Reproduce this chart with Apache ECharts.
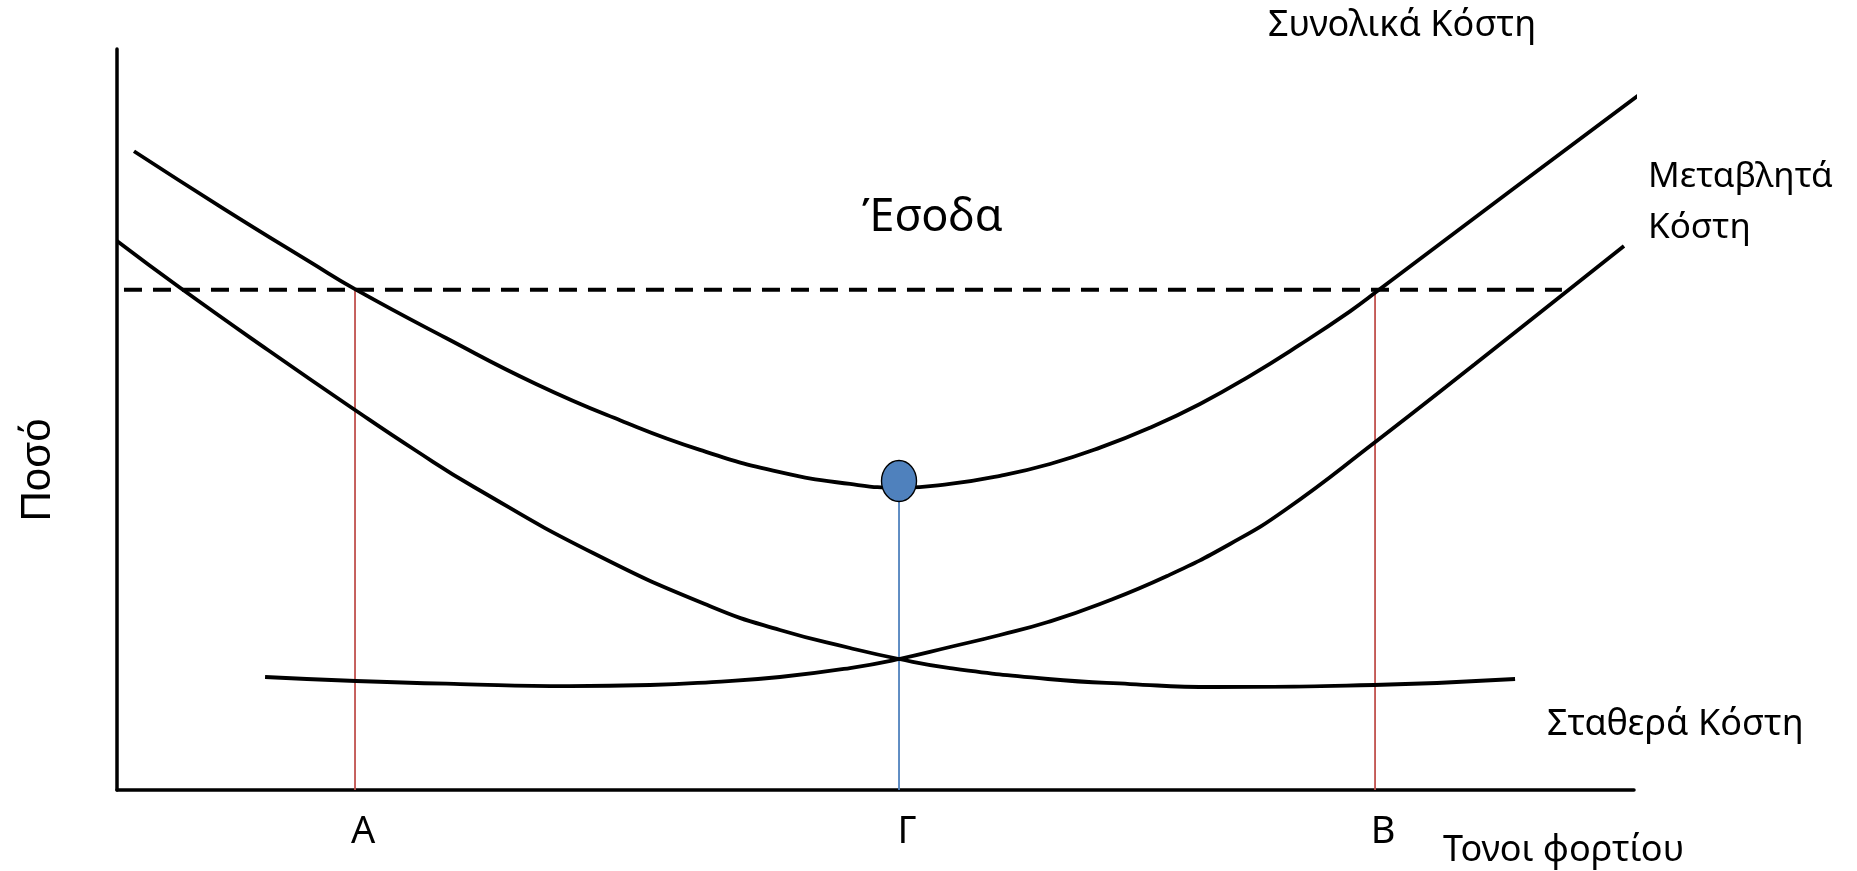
<!DOCTYPE html>
<html>
<head>
<meta charset="utf-8">
<title>Κόστη - Έσοδα</title>
<script src="https://cdn.jsdelivr.net/npm/echarts@6/dist/echarts.min.js"></script>
<style>
  html, body { margin: 0; padding: 0; background: #fff; }
  #chart { width: 1857px; height: 871px; }
</style>
</head>
<body>
<div id="chart"></div>
<script>
// Τονοι φορτίου (x) / Ποσό (y), 0..100 on both axes
const totalCost = [
  [1.12, 86.2], [6.99, 78.5], [12.85, 71.1], [15.69, 67.6], [21.69, 61.0],
  [27.62, 54.8], [33.16, 49.9], [38.43, 45.9], [43.7, 42.9], [48.32, 41.3],
  [51.62, 40.8], [54.91, 41.3], [58.21, 42.4], [61.5, 44.0], [64.8, 46.2],
  [68.1, 48.9], [71.39, 52.1], [74.69, 55.9], [77.98, 60.1], [81.28, 64.6],
  [83.19, 67.5], [91.96, 81.0], [100.66, 94.3]
];
const fixedCost = [
  [0, 74.09], [4.09, 67.88], [9.95, 59.38], [15.69, 51.28], [19.64, 45.88],
  [23.53, 40.89], [31.38, 31.98], [39.22, 24.7], [43.7, 21.59], [48.32, 19.16],
  [51.55, 17.68], [54.91, 16.46], [61.37, 14.98], [66.78, 14.3], [72.31, 13.9],
  [82.86, 14.17], [92.16, 14.98]
];
const variableCost = [
  [9.76, 15.25], [15.75, 14.71], [22.61, 14.3], [29.8, 14.03], [35.14, 14.17],
  [39.22, 14.57], [43.7, 15.25], [48.32, 16.46], [51.55, 17.68], [54.91, 19.3],
  [58.21, 20.92], [61.37, 22.67], [64.8, 25.1], [69.22, 28.88], [73.37, 33.2],
  [77.0, 37.79], [82.86, 46.83], [89.52, 57.49], [95.85, 67.75], [99.34, 73.41]
];
// Έσοδα (οριζόντια διακεκομμένη)
const revenueLevel = 67.5;
const revenueFrom = 0.46;
const revenueTo = 95.25;
// σημεία A, Γ, B
const pointNames = ['A', 'Γ', 'B'];
const pointX = [15.69, 51.55, 82.93];
const minPoint = [51.55, 41.7];

const FONT = "'Noto Sans', sans-serif";

let chart = echarts.init(document.getElementById('chart'));

let dropLines = [];
pointNames.forEach(function (n, i) {
  let top = n === 'Γ' ? minPoint[1] : revenueLevel;
  dropLines.push({
    type: 'line',
    data: [[pointX[i], 0], [pointX[i], top]],
    symbol: 'none',
    lineStyle: { color: n === 'Γ' ? '#4F81BD' : '#C0504D', width: 1.8 },
    z: 1,
    silent: true
  });
});

function curve(data) {
  return {
    type: 'line',
    data: data,
    smooth: 0.5,
    symbol: 'none',
    clip: false,
    lineStyle: { color: '#000', width: 3.8 },
    z: 3,
    silent: true
  };
}

function label(text, x, y, size) {
  return {
    type: 'text',
    x: x, y: y,
    style: {
      text: text, fill: '#000',
      font: size + 'px ' + FONT,
      textAlign: 'left', textVerticalAlign: 'middle'
    }
  };
}

chart.setOption({
  animation: false,
  backgroundColor: '#fff',
  grid: { left: 117, right: 223, top: 49, bottom: 81 },
  xAxis: {
    type: 'value', min: 0, max: 100,
    axisLine: { show: true, lineStyle: { color: '#000', width: 3.5 } },
    axisTick: { show: false },
    splitLine: { show: false },
    axisLabel: {
      customValues: pointX,
      formatter: function (v) {
        let i = pointX.indexOf(v);
        return i >= 0 ? pointNames[i] : '';
      },
      color: '#000', fontSize: 38, fontFamily: FONT,
      margin: 23, padding: [0, 0, 0, 16]
    }
  },
  yAxis: {
    type: 'value', min: 0, max: 100,
    axisLine: { show: true, lineStyle: { color: '#000', width: 3.5 } },
    axisTick: { show: false },
    splitLine: { show: false },
    axisLabel: { show: false }
  },
  series: dropLines.concat([
    {
      type: 'line',
      data: [[revenueFrom, revenueLevel], [revenueTo, revenueLevel]],
      symbol: 'none',
      lineStyle: { color: '#000', width: 4, type: [18, 11] },
      z: 2,
      silent: true
    },
    curve(totalCost),
    curve(fixedCost),
    curve(variableCost),
    {
      type: 'scatter',
      data: [minPoint],
      symbol: 'circle',
      symbolSize: [35, 41],
      itemStyle: { color: '#4F81BD', borderColor: '#000', borderWidth: 1.5, opacity: 1 },
      z: 5,
      silent: true
    }
  ]),
  graphic: [
    label('Συνολικά Κόστη', 1268, 26, 36),
    label('Έσοδα', 862, 218, 45),
    label('Μεταβλητά', 1648, 177, 35),
    label('Κόστη', 1648, 228, 35),
    label('Σταθερά Κόστη', 1547, 725, 36),
    label('Τονοι φορτίου', 1443, 851, 36),
    {
      type: 'text',
      x: 38, y: 470,
      rotation: Math.PI / 2,
      style: {
        text: 'Ποσό', fill: '#000',
        font: "42px 'Liberation Sans', Arial, sans-serif",
        textAlign: 'center', textVerticalAlign: 'middle'
      }
    }
  ]
});
</script>
</body>
</html>
